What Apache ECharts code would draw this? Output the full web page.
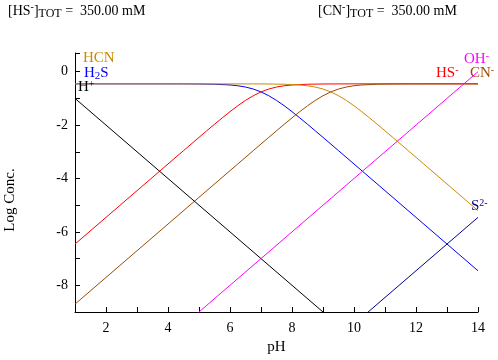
<!DOCTYPE html>
<html>
<head>
<meta charset="utf-8">
<script src="https://cdn.jsdelivr.net/npm/echarts@6/dist/echarts.min.js"></script>
<style>html,body{margin:0;padding:0;background:#fff}#c{width:498px;height:360px}</style>
</head>
<body>
<div id="c"></div>
<script>
// pH values and log concentrations
var phH2S  = [1, 4, 4.5, 5, 5.5, 6, 6.25, 6.5, 6.75, 7, 7.25, 7.5, 7.75, 8, 8.25, 8.5, 8.75, 9, 9.5, 10, 14];
var logH2S = [-0.456, -0.456, -0.457, -0.460, -0.470, -0.497, -0.527, -0.575, -0.650, -0.757, -0.900, -1.075, -1.277, -1.497, -1.730, -1.969, -2.214, -2.460, -2.957, -3.456, -7.456];

var phHS   = [1, 4, 4.5, 5, 5.25, 5.5, 5.75, 6, 6.25, 6.5, 6.75, 7, 7.25, 7.5, 7.75, 8, 8.5, 9, 10, 14];
var logHS  = [-6.456, -3.456, -2.957, -2.460, -2.214, -1.969, -1.730, -1.497, -1.277, -1.075, -0.900, -0.757, -0.650, -0.575, -0.527, -0.497, -0.470, -0.460, -0.456, -0.456];

var phHCN  = [1, 6.75, 7.25, 7.75, 8.25, 8.5, 8.75, 9, 9.25, 9.5, 9.75, 10, 10.25, 10.5, 10.75, 11, 11.25, 11.75, 12.25, 14];
var logHCN = [-0.456, -0.457, -0.460, -0.470, -0.497, -0.527, -0.575, -0.650, -0.757, -0.900, -1.075, -1.277, -1.497, -1.730, -1.969, -2.214, -2.460, -2.957, -3.456, -5.206];

var phCN   = [1, 6.25, 6.75, 7.25, 7.5, 7.75, 8, 8.25, 8.5, 8.75, 9, 9.25, 9.5, 9.75, 10, 10.25, 10.75, 11.25, 11.75, 14];
var logCN  = [-8.706, -3.456, -2.957, -2.460, -2.214, -1.969, -1.730, -1.497, -1.277, -1.075, -0.900, -0.757, -0.650, -0.575, -0.527, -0.497, -0.470, -0.460, -0.457, -0.456];

var phH    = [1, 10];
var logH   = [-1, -10];
var phOH   = [4, 14];
var logOH  = [-10, 0];
var phS2   = [10, 14];
var logS2  = [-9.456, -5.456];

var xTicks = [2, 4, 6, 8, 10, 12, 14];
var yTicks = [-8, -6, -4, -2, 0];

function pairs(xs, ys) { return xs.map(function (x, i) { return [x, ys[i]]; }); }

var FONT = '"Liberation Serif", "Times New Roman", serif';
function line(name, xs, ys, color, z) {
  return { name: name, type: 'line', data: pairs(xs, ys), showSymbol: false, symbol: 'none',
    lineStyle: { color: color, width: 1 }, itemStyle: { color: color }, z: z, animation: false, clip: true };
}

function richFor(color, base, sup, sub, lh) {
  return {
    n:   { fontFamily: FONT, fontSize: base, lineHeight: lh, verticalAlign: 'middle', fill: color },
    sup: { fontFamily: FONT, fontSize: sup, lineHeight: sup, verticalAlign: 'top', fill: color },
    sub: { fontFamily: FONT, fontSize: sub, lineHeight: sub, verticalAlign: 'bottom', fill: color }
  };
}
function label(x, y, text, color) {
  return { type: 'text', left: x, top: y, z: 100,
    style: { text: text, fill: color, rich: richFor(color, 15, 10, 11, 17) } };
}

var chart = echarts.init(document.getElementById('c'), null, { renderer: 'canvas' });
chart.setOption({
  animation: false,
  backgroundColor: '#fff',
  grid: { left: 75, right: 20, top: 53, bottom: 48, containLabel: false },
  xAxis: {
    type: 'value', min: 1, max: 14, interval: 1,
    name: 'pH', nameLocation: 'middle', nameGap: 24,
    nameTextStyle: { fontFamily: FONT, fontSize: 15, color: '#000' },
    axisLine: { onZero: false, lineStyle: { color: '#000', width: 1 } },
    axisTick: { inside: true, length: 5, lineStyle: { color: '#000' } },
    axisLabel: { fontFamily: FONT, fontSize: 14, color: '#000', margin: 9,
      formatter: function (v) { return xTicks.indexOf(v) >= 0 ? String(v) : ''; } },
    splitLine: { show: false }
  },
  yAxis: {
    type: 'value', min: -9, max: 0.7, interval: 1,
    axisLine: { show: true, onZero: false, lineStyle: { color: '#000', width: 1 } },
    axisTick: { show: true, inside: true, length: 5, lineStyle: { color: '#000' } },
    axisLabel: { fontFamily: FONT, fontSize: 14, color: '#000', margin: 7,
      formatter: function (v) { return yTicks.indexOf(v) >= 0 ? String(v) : ''; } },
    splitLine: { show: false }
  },
  series: [
    line('H2S', phH2S, logH2S, '#0000ff', 2),
    line('HS-', phHS, logHS, '#ff0000', 3),
    line('HCN', phHCN, logHCN, '#cc8a00', 4),
    line('CN-', phCN, logCN, '#994c00', 5),
    line('H+', phH, logH, '#000000', 6),
    line('OH-', phOH, logOH, '#ff00ff', 7),
    line('S2-', phS2, logS2, '#000090', 8)
  ],
  graphic: [
    { type: 'text', left: 8, top: 2, z: 100,
      style: { text: '{n|[HS}{sup|-}{n|]}{sub|TOT}{n| =  350.00 mM}', fill: '#000', rich: richFor('#000', 14, 10, 12, 18) } },
    { type: 'text', left: 318, top: 2, z: 100,
      style: { text: '{n|[CN}{sup|-}{n|]}{sub|TOT}{n| =  350.00 mM}', fill: '#000', rich: richFor('#000', 14, 10, 12, 18) } },
    { type: 'text', x: 10, y: 200, rotation: Math.PI / 2, z: 100,
      style: { text: 'Log Conc.', fill: '#000', font: '15px ' + FONT, align: 'center', verticalAlign: 'middle' } },
    label(83, 51, '{n|HCN}', '#cc8a00'),
    label(84, 66, '{n|H}{sub|2}{n|S}', '#0000ff'),
    label(78, 79, '{n|H}{sup|+}', '#000000'),
    label(464, 51, '{n|OH}{sup|-}', '#ff00ff'),
    label(436, 65, '{n|HS}{sup|-}', '#ff0000'),
    label(470, 65, '{n|CN}{sup|-}', '#994c00'),
    label(471, 198, '{n|S}{sup|2-}', '#000090')
  ]
});
</script>
</body>
</html>
